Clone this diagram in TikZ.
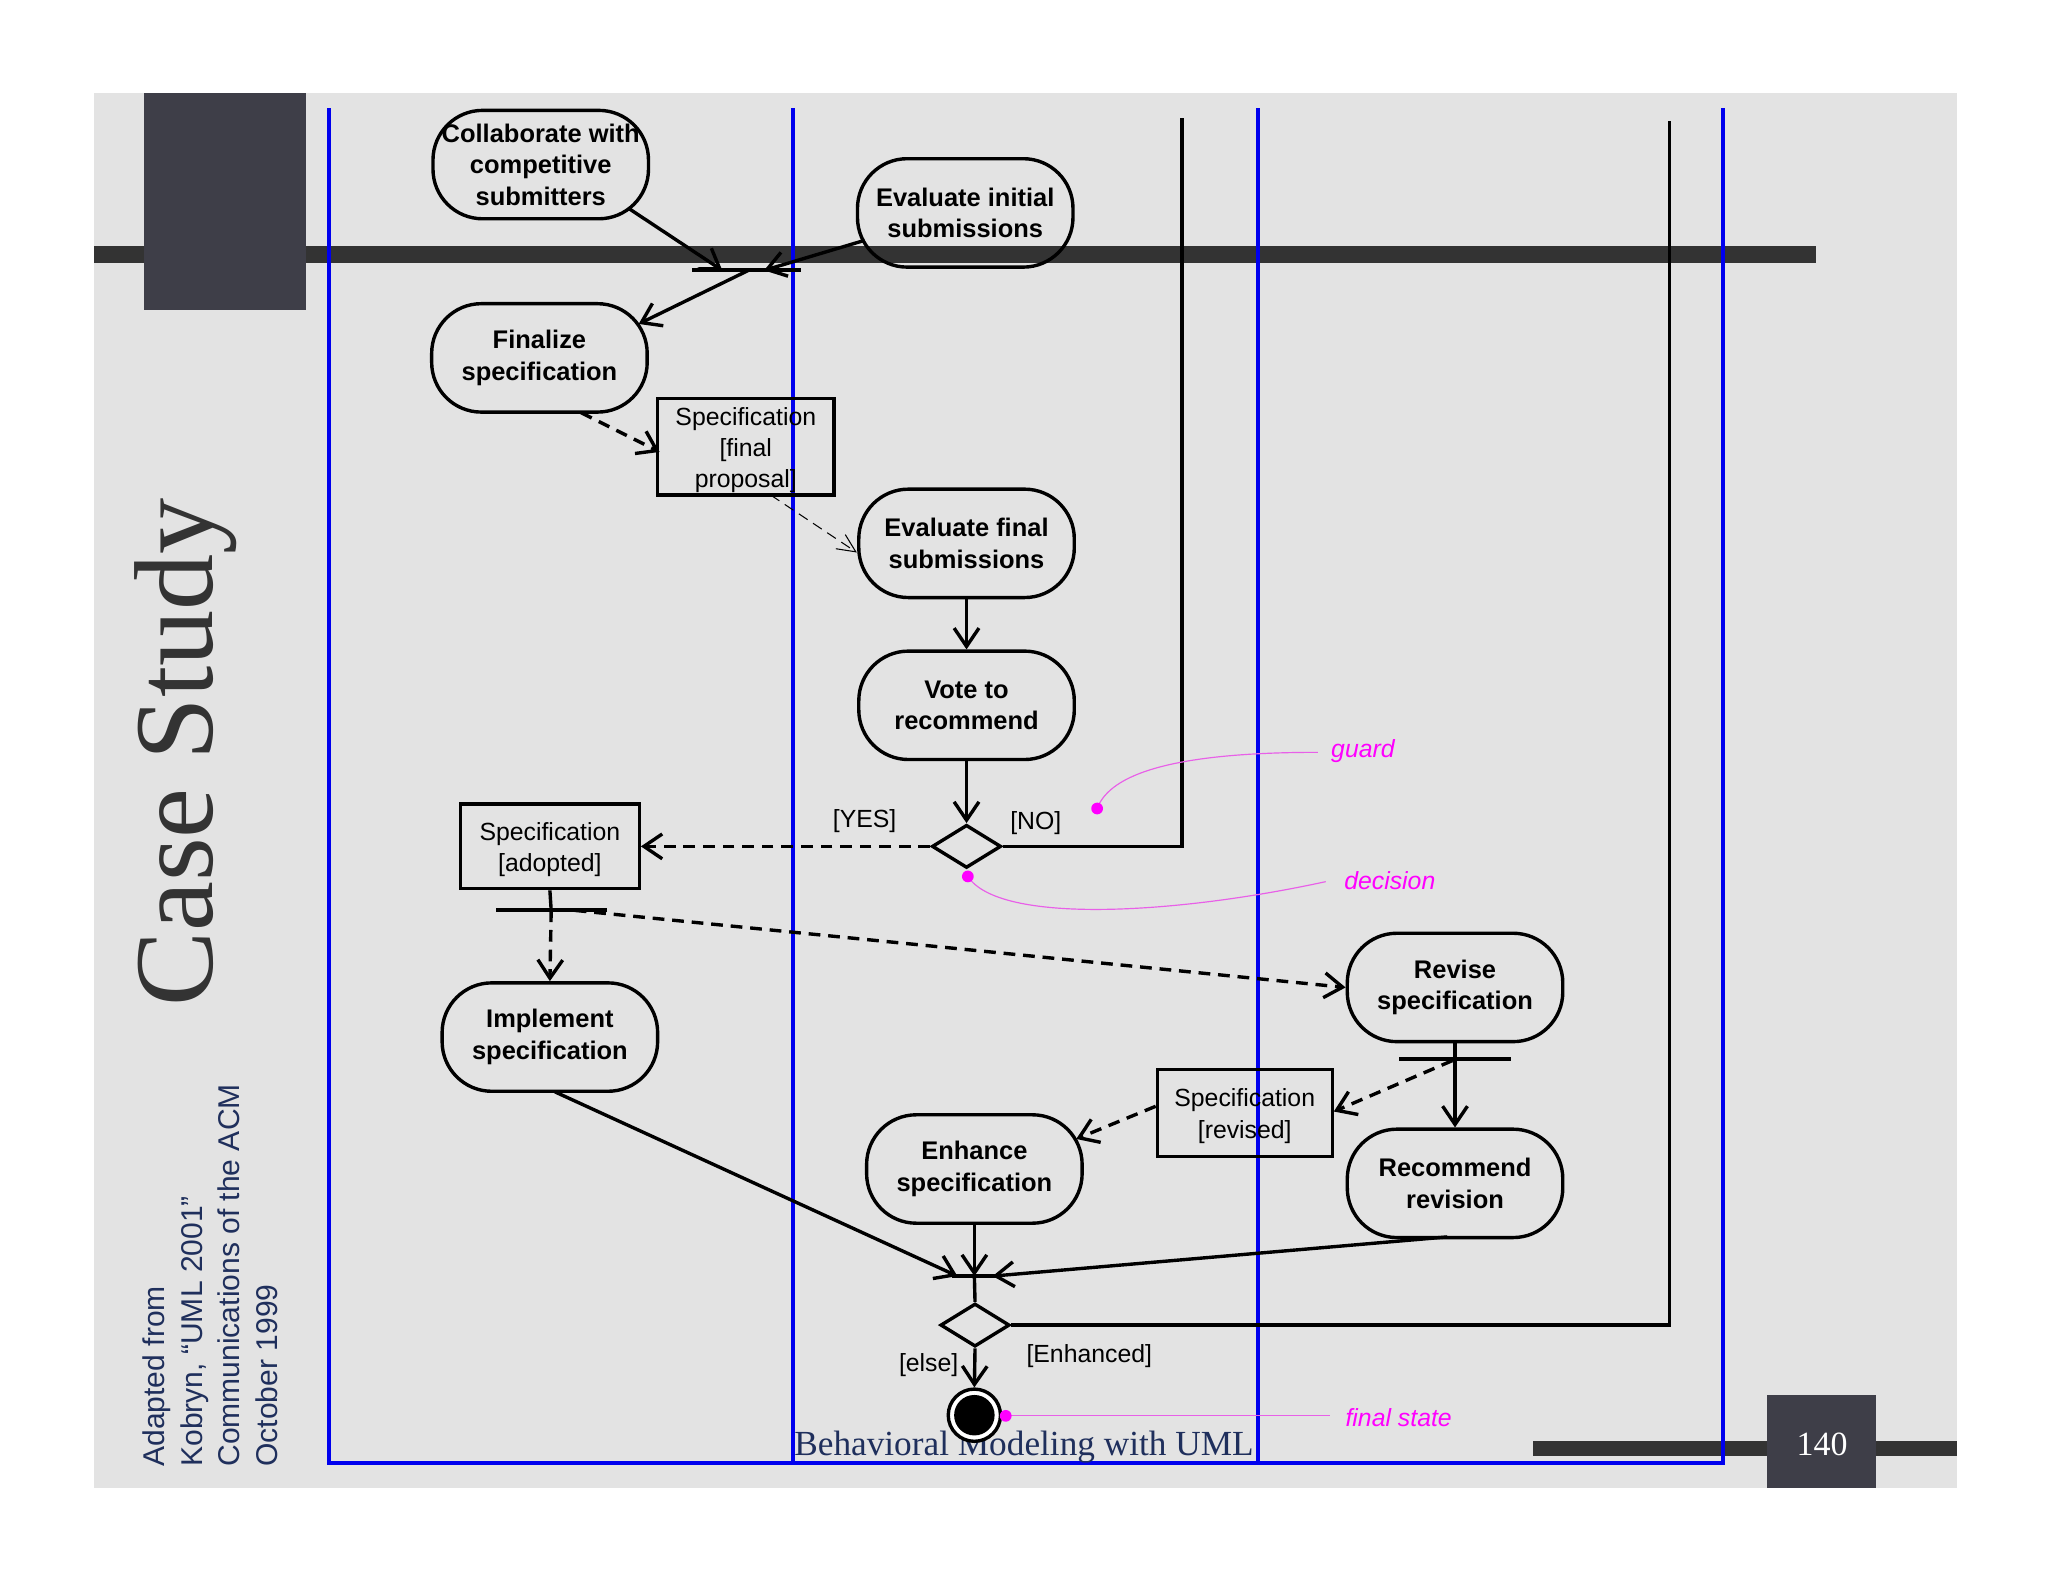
\documentclass[tikz,border=0pt]{standalone}
\usepackage{fontspec}
\setmainfont{Liberation Sans}
\newfontfamily\seriff{Liberation Serif}
\usetikzlibrary{shapes.geometric,arrows.meta,calc}
\definecolor{bggray}{HTML}{E3E3E3}
\definecolor{barcol}{HTML}{333333}
\definecolor{sqcol}{HTML}{3E3E48}
\definecolor{navytxt}{HTML}{1F2F5C}
\definecolor{lanecol}{HTML}{0000EE}
\definecolor{annot}{HTML}{FF00FF}
\definecolor{annotline}{HTML}{E860E8}
\tikzset{
  act/.style={draw, line width=2.6pt, rounded corners=38pt, minimum width=165pt,
    minimum height=83pt, align=center, inner sep=0pt,
    font=\bfseries\fontsize{19.5}{24}\selectfont},
  obj/.style={draw, line width=2.4pt, align=center, inner sep=0pt,
    font=\fontsize{19}{24}\selectfont},
  decis/.style={draw, diamond, line width=2.6pt, minimum width=53pt, minimum height=33pt, inner sep=0pt},
  bar/.style={fill=black, minimum height=3pt, inner sep=0pt, outer sep=0pt},
  guardlbl/.style={font=\fontsize{19}{24}\selectfont, inner sep=0pt},
  flow/.style={line width=2.6pt, -{Straight Barb[length=14pt,width=19pt]}},
  plain/.style={line width=2.6pt},
  dflow/.style={line width=2.6pt, dash pattern=on 9pt off 6pt, -{Straight Barb[length=14pt,width=19pt]}},
  thinflow/.style={line width=0.8pt, dash pattern=on 8pt off 5pt, -{Straight Barb[length=14pt,width=13pt]}},
  lane/.style={lanecol, line width=2.8pt},
  note/.style={annot, font=\itshape\fontsize{19}{24}\selectfont, inner sep=0pt},
  noteline/.style={annotline, line width=0.9pt},
  dot/.style={annot, fill},
}
\begin{document}
\begin{tikzpicture}[x=1pt,y=-1pt]
\useasboundingbox (0,0) rectangle (1568,1211);
\fill[white] (0,0) rectangle (1568,1211);
% slide background
\fill[bggray] (72,71) rectangle (1498,1139);
\fill[barcol] (72,188) rectangle (1390,201);
\fill[sqcol] (110,71) rectangle (234,237);
\fill[barcol] (1174,1103) rectangle (1498,1115);
\fill[sqcol] (1353,1068) rectangle (1436,1139);
% swimlanes
\draw[lane] (252,83) -- (252,1120) -- (1319,1120) -- (1319,83);
\draw[lane] (607,83) -- (607,1120);
\draw[lane] (963,83) -- (963,1120);
% side texts
\node[rotate=90, anchor=base, inner sep=0pt, text=barcol, font=\seriff\fontsize{86}{90}\selectfont] (title) at (163,576) {Case Study};
\node[rotate=90, anchor=west, inner sep=0pt, align=left, text=navytxt, font=\fontsize{23}{29}\selectfont] (credit) at (161,1123)
  {Adapted from\\Kobryn, “UML 2001”\\Communications of the ACM\\October 1999};
\node[anchor=base, inner sep=0pt, text=navytxt, font=\seriff\fontsize{27}{30}\selectfont] (footer) at (784,1114) {Behavioral Modeling with UML};
\node[anchor=base, inner sep=0pt, text=white, font=\seriff\fontsize{26}{30}\selectfont] (pagenum) at (1395,1114) {140};

% activity nodes
\node[act] (collab) at (414,126) {Collaborate with\\competitive\\submitters};
\node[act] (evalI) at (739,163) {Evaluate initial\\submissions};
\node[act] (final) at (413,274) {Finalize\\specification};
\node[obj, minimum width=135pt, minimum height=74pt] (specF) at (571,342) {\rule{0pt}{19pt}Specification\\{}[final\\proposal]};
\node[act] (evalF) at (740,416) {Evaluate final\\submissions};
\node[act] (vote) at (740,540) {Vote to\\recommend};
\node[decis] (dec1) at (740,648) {};
\node[obj, minimum width=137pt, minimum height=65pt] (specA) at (421,648) {\rule{0pt}{19pt}Specification\\{}[adopted]};
\node[bar, minimum width=85pt] (forkA) at (422,697) {};
\node[act] (impl) at (421,794) {Implement\\specification};
\node[act] (revise) at (1114,756) {Revise\\specification};
\node[bar, minimum width=86pt] (forkB) at (1114,811) {};
\node[obj, minimum width=134pt, minimum height=67pt] (specR) at (953,852) {\rule{0pt}{19pt}Specification\\{}[revised]};
\node[act] (recom) at (1114,906) {Recommend\\revision};
\node[act] (enh) at (746,895) {Enhance\\specification};
\node[bar, minimum width=84pt] (joinA) at (571.5,207) {};
\node[bar, minimum width=34pt] (joinB) at (746,977) {};
\node[decis] (dec2) at (746.5,1014.5) {};
\node[circle, draw, line width=2.6pt, fill=white, minimum size=40pt, inner sep=0pt,
  path picture={\fill[black] (path picture bounding box.center) circle (15.5pt);}] (fin) at (746,1083.5) {};
\coordinate (loopA) at (905,90);
\coordinate (loopB) at (1278,93);

% connectors
\draw[flow] ($(collab)+(68,34)$) -- ($(joinA)+(-18.5,0)$);
\draw[flow] ($(evalI)+(-77,21)$) -- ($(joinA)+(13.5,0)$);
\draw[flow] ($(joinA)+(1.5,0)$) -- ($(final)+(76,-26)$);
\draw[dflow] ($(final)+(32,42)$) -- ($(specF)+(-66,4)$);
\draw[thinflow] ($(specF)+(19,37)$) -- ($(evalF)+(-84,7)$);
\draw[flow] (evalF.south) -- (vote.north);
\draw[flow] (vote.south) -- (dec1.north);
\draw[dflow] (dec1.west) -- (specA.east);
\draw[plain] (dec1.east) -| (loopA);
\draw[plain] (specA.south) -- (forkA.center);
\draw[dflow] (forkA.center) -- (impl.north);
\draw[dflow] ($(forkA)+(18,0)$) -- (revise.west);
\draw[flow] (revise.south) -- (recom.north);
\draw[dflow] ($(forkB)+(-2,1)$) -- ($(specR.east)+(0,-1)$);
\draw[dflow] ($(specR.west)+(0,-5)$) -- ($(enh)+(78,-23)$);
\draw[flow] ($(impl)+(4,42)$) -- ($(joinB)+(-13,0)$);
\draw[flow] (enh.south) -- (joinB.center);
\draw[flow] ($(recom)+(-6,41)$) -- ($(joinB)+(14,0)$);
\draw[plain] (joinB.center) -- (dec2.north);
\draw[plain] (dec2.east) -| (loopB);
\draw[flow] (dec2.south) -- (fin.north);

% guard labels
\node[guardlbl] (yes) at (662,629) {[YES]};
\node[guardlbl] (no) at (793,630) {[NO]};
\node[guardlbl] (enhd) at (834,1038) {[Enhanced]};
\node[guardlbl] (els) at (711,1045) {[else]};

% annotations
\node[note, anchor=west] (ng) at (1019,575) {guard};
\node[note, anchor=west] (nd) at (1029,674) {decision};
\node[note, anchor=west] (nf) at (1030,1085) {final state};
\coordinate (dg) at (840,619);
\coordinate (dd) at (741,671);
\coordinate (df) at (770,1084);
\draw[noteline] ($(ng.west)+(-10,1)$) .. controls (900,576) and (850,592) .. (dg);
\draw[noteline] ($(nd.west)+(-14,1)$) .. controls (900,700) and (765,708) .. (dd);
\draw[noteline] ($(nf.west)+(-12,-1)$) -- (df);
\fill[dot] (dg) circle (4.5pt);
\fill[dot] (dd) circle (4.5pt);
\fill[dot] (df) circle (4.5pt);
\end{tikzpicture}
\end{document}
